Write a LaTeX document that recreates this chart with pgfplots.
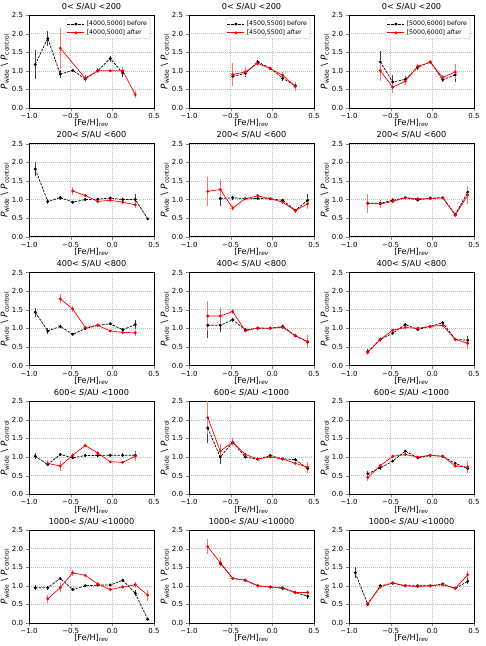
\documentclass[border=0pt]{standalone}
\usepackage{fontspec}
\setmainfont{DejaVu Sans}
\usepackage{pgfplots}
\pgfplotsset{compat=1.18}
\usepgfplotslibrary{groupplots}
\usetikzlibrary{calc}

\pgfplotsset{
  panel/.style={
    width=125pt, height=93pt, scale only axis,
    xmin=-1, xmax=0.5, ymin=0, ymax=2.5,
    xtick={-1,-0.5,0,0.5}, xticklabels={−1.0,−0.5,0.0,0.5},
    ytick={0,0.5,1,1.5,2,2.5}, yticklabels={0.0,0.5,1.0,1.5,2.0,2.5},
    tick align=outside, tick pos=left, major tick length=3pt,
    tick label style={font=\fontsize{7}{8}\selectfont},
    xticklabel style={yshift=1pt},
    yticklabel style={xshift=0.5pt},
    grid=major, major grid style={black!25, dash pattern=on 1pt off 1pt, line width=0.5pt},
    axis line style={line width=0.6pt},
    title style={font=\fontsize{8.2}{9}\selectfont, yshift=-4.5pt},
    xlabel={[Fe/H]\textsubscript{\textit{rev}}},
    xlabel style={font=\fontsize{8.2}{9}\selectfont, yshift=6pt},
    ylabel={\textit{P}\textsubscript{wide} \textbackslash\ \textit{P}\textsubscript{control}},
    ylabel style={font=\fontsize{9}{10}\selectfont, yshift=-4pt},
    legend style={at={(0.97,0.97)}, anchor=north east, font=\fontsize{6.2}{7}\selectfont,
      draw=black!25, rounded corners=1.5pt, inner sep=1pt, row sep=-1.5pt},
    legend cell align=left,
  },
  before/.style={black, dash pattern=on 2.5pt off 1.2pt, line width=0.7pt,
    mark=*, mark size=1.1pt, mark options={solid},
    error bars/.cd, y dir=both, y explicit, error mark=none,
    error bar style={solid, black!75, line width=0.9pt}},
  after/.style={red, solid, line width=0.7pt,
    mark=*, mark size=1.1pt, mark options={solid},
    error bars/.cd, y dir=both, y explicit, error mark=none,
    error bar style={solid, red!55, line width=0.9pt}},
}

\begin{document}
\begin{tikzpicture}
\begin{groupplot}[group style={group size=3 by 5, horizontal sep=35pt, vertical sep=35.75pt}, panel]
% row 1: 0 < S/AU < 200
\nextgroupplot[title={0< \textit{S}/AU <200}]
\addplot[before] coordinates {(-0.925,1.17)+-(0,0.4) (-0.775,1.87)+-(0,0.2) (-0.625,0.91)+-(0,0.1) (-0.475,1.01)+-(0,0.05) (-0.325,0.78)+-(0,0.06) (-0.175,1.0)+-(0,0.05) (-0.025,1.33)+-(0,0.08) (0.125,0.94)+-(0,0.12)};
\addlegendentry{[4000,5000] before}
\addplot[after] coordinates {(-0.625,1.61)+-(0,0.55) (-0.325,0.8)+-(0,0.1) (-0.175,1.0)+-(0,0.07) (-0.025,1.0)+-(0,0.03) (0.125,1.0)+-(0,0.09) (0.275,0.36)+-(0,0.1)};
\addlegendentry{[4000,5000] after}

\nextgroupplot[title={0< \textit{S}/AU <200}]
\addplot[before] coordinates {(-0.475,0.85)+-(0,0.1) (-0.325,0.93)+-(0,0.1) (-0.175,1.24)+-(0,0.05) (-0.025,1.07)+-(0,0.04) (0.125,0.8)+-(0,0.08) (0.275,0.6)+-(0,0.1)};
\addlegendentry{[4500,5500] before}
\addplot[after] coordinates {(-0.475,0.9)+-(0,0.3) (-0.325,0.97)+-(0,0.12) (-0.175,1.2)+-(0,0.07) (-0.025,1.06)+-(0,0.05) (0.125,0.88)+-(0,0.08) (0.275,0.58)+-(0,0.12)};
\addlegendentry{[4500,5500] after}

\nextgroupplot[title={0< \textit{S}/AU <200}]
\addplot[before] coordinates {(-0.625,1.24)+-(0,0.28) (-0.475,0.7)+-(0,0.18) (-0.325,0.77)+-(0,0.1) (-0.175,1.09)+-(0,0.07) (-0.025,1.24)+-(0,0.06) (0.125,0.76)+-(0,0.07) (0.275,0.89)+-(0,0.18)};
\addlegendentry{[5000,6000] before}
\addplot[after] coordinates {(-0.625,1.0)+-(0,0.28) (-0.475,0.56)+-(0,0.15) (-0.325,0.72)+-(0,0.1) (-0.175,1.12)+-(0,0.07) (-0.025,1.23)+-(0,0.06) (0.125,0.82)+-(0,0.07) (0.275,0.97)+-(0,0.2)};
\addlegendentry{[5000,6000] after}

% row 2: 200 < S/AU < 600
\nextgroupplot[title={200< \textit{S}/AU <600}]
\addplot[before] coordinates {(-0.925,1.82)+-(0,0.2) (-0.775,0.95)+-(0,0.07) (-0.625,1.05)+-(0,0.05) (-0.475,0.93)+-(0,0.03) (-0.325,1.0)+-(0,0.03) (-0.175,1.01)+-(0,0.03) (-0.025,1.04)+-(0,0.03) (0.125,1.0)+-(0,0.04) (0.275,1.0)+-(0,0.16) (0.425,0.48)+-(0,0.03)};
\addplot[after] coordinates {(-0.475,1.23)+-(0,0.1) (-0.325,1.11)+-(0,0.05) (-0.175,0.95)+-(0,0.05) (-0.025,0.98)+-(0,0.04) (0.125,0.93)+-(0,0.05) (0.275,0.86)+-(0,0.08)};

\nextgroupplot[title={200< \textit{S}/AU <600}]
\addplot[before] coordinates {(-0.625,1.03)+-(0,0.2) (-0.475,1.05)+-(0,0.05) (-0.325,1.02)+-(0,0.03) (-0.175,1.03)+-(0,0.03) (-0.025,1.02)+-(0,0.03) (0.125,0.98)+-(0,0.03) (0.275,0.71)+-(0,0.04) (0.425,0.98)+-(0,0.16)};
\addplot[after] coordinates {(-0.775,1.22)+-(0,0.38) (-0.625,1.27)+-(0,0.27) (-0.475,0.77)+-(0,0.08) (-0.325,1.02)+-(0,0.04) (-0.175,1.1)+-(0,0.04) (-0.025,1.02)+-(0,0.03) (0.125,0.93)+-(0,0.04) (0.275,0.7)+-(0,0.05) (0.425,0.89)+-(0,0.15)};

\nextgroupplot[title={200< \textit{S}/AU <600}]
\addplot[before] coordinates {(-0.775,0.9)+-(0,0.2) (-0.625,0.9)+-(0,0.1) (-0.475,0.98)+-(0,0.05) (-0.325,1.05)+-(0,0.03) (-0.175,0.99)+-(0,0.03) (-0.025,1.04)+-(0,0.03) (0.125,1.05)+-(0,0.03) (0.275,0.6)+-(0,0.05) (0.425,1.2)+-(0,0.15)};
\addplot[after] coordinates {(-0.775,0.9)+-(0,0.25) (-0.625,0.88)+-(0,0.12) (-0.475,0.95)+-(0,0.05) (-0.325,1.05)+-(0,0.03) (-0.175,1.02)+-(0,0.03) (-0.025,1.02)+-(0,0.03) (0.125,1.05)+-(0,0.03) (0.275,0.58)+-(0,0.05) (0.425,1.12)+-(0,0.25)};

% row 3: 400 < S/AU < 800
\nextgroupplot[title={400< \textit{S}/AU <800}]
\addplot[before] coordinates {(-0.925,1.43)+-(0,0.12) (-0.775,0.93)+-(0,0.07) (-0.625,1.05)+-(0,0.05) (-0.475,0.84)+-(0,0.03) (-0.325,0.99)+-(0,0.03) (-0.175,1.08)+-(0,0.03) (-0.025,1.12)+-(0,0.03) (0.125,0.96)+-(0,0.05) (0.275,1.1)+-(0,0.12)};
\addplot[after] coordinates {(-0.625,1.79)+-(0,0.12) (-0.475,1.52)+-(0,0.07) (-0.325,1.02)+-(0,0.03) (-0.175,1.08)+-(0,0.03) (-0.025,0.93)+-(0,0.03) (0.125,0.89)+-(0,0.04) (0.275,0.88)+-(0,0.08)};

\nextgroupplot[title={400< \textit{S}/AU <800}]
\addplot[before] coordinates {(-0.775,1.08)+-(0,0.35) (-0.625,1.08)+-(0,0.18) (-0.475,1.23)+-(0,0.05) (-0.325,0.96)+-(0,0.04) (-0.175,1.0)+-(0,0.03) (-0.025,1.0)+-(0,0.02) (0.125,1.05)+-(0,0.03) (0.275,0.8)+-(0,0.04) (0.425,0.63)+-(0,0.1)};
\addplot[after] coordinates {(-0.775,1.33)+-(0,0.4) (-0.625,1.33)+-(0,0.25) (-0.475,1.45)+-(0,0.06) (-0.325,0.93)+-(0,0.03) (-0.175,1.01)+-(0,0.03) (-0.025,1.0)+-(0,0.02) (0.125,1.03)+-(0,0.03) (0.275,0.8)+-(0,0.04) (0.425,0.64)+-(0,0.17)};

\nextgroupplot[title={400< \textit{S}/AU <800}]
\addplot[before] coordinates {(-0.775,0.37)+-(0,0.07) (-0.625,0.7)+-(0,0.06) (-0.475,0.87)+-(0,0.04) (-0.325,1.1)+-(0,0.03) (-0.175,0.97)+-(0,0.03) (-0.025,1.05)+-(0,0.02) (0.125,1.15)+-(0,0.03) (0.275,0.7)+-(0,0.04) (0.425,0.68)+-(0,0.12)};
\addplot[after] coordinates {(-0.775,0.35)+-(0,0.08) (-0.625,0.7)+-(0,0.07) (-0.475,0.95)+-(0,0.04) (-0.325,1.02)+-(0,0.03) (-0.175,1.0)+-(0,0.03) (-0.025,1.05)+-(0,0.02) (0.125,1.08)+-(0,0.03) (0.275,0.7)+-(0,0.04) (0.425,0.6)+-(0,0.15)};

% row 4: 600 < S/AU < 1000
\nextgroupplot[title={600< \textit{S}/AU <1000}]
\addplot[before] coordinates {(-0.925,1.02)+-(0,0.08) (-0.775,0.8)+-(0,0.05) (-0.625,1.07)+-(0,0.05) (-0.475,0.98)+-(0,0.04) (-0.325,1.04)+-(0,0.03) (-0.175,1.04)+-(0,0.03) (-0.025,1.05)+-(0,0.03) (0.125,1.05)+-(0,0.05) (0.275,1.05)+-(0,0.1)};
\addplot[after] coordinates {(-0.775,0.83)+-(0,0.08) (-0.625,0.76)+-(0,0.13) (-0.475,1.05)+-(0,0.07) (-0.325,1.31)+-(0,0.05) (-0.175,1.11)+-(0,0.03) (-0.025,0.87)+-(0,0.03) (0.125,0.86)+-(0,0.03) (0.275,1.02)+-(0,0.12)};

\nextgroupplot[title={600< \textit{S}/AU <1000}]
\addplot[before] coordinates {(-0.775,1.78)+-(0,0.4) (-0.625,1.0)+-(0,0.2) (-0.475,1.4)+-(0,0.08) (-0.325,1.0)+-(0,0.04) (-0.175,0.94)+-(0,0.03) (-0.025,1.04)+-(0,0.03) (0.125,0.95)+-(0,0.03) (0.275,0.93)+-(0,0.04) (0.425,0.69)+-(0,0.07)};
\addplot[after] coordinates {(-0.775,2.06)+-(0,0.45) (-0.625,1.16)+-(0,0.18) (-0.475,1.4)+-(0,0.1) (-0.325,1.07)+-(0,0.04) (-0.175,0.95)+-(0,0.03) (-0.025,1.0)+-(0,0.03) (0.125,0.95)+-(0,0.03) (0.275,0.83)+-(0,0.04) (0.425,0.73)+-(0,0.15)};

\nextgroupplot[title={600< \textit{S}/AU <1000}]
\addplot[before] coordinates {(-0.775,0.55)+-(0,0.08) (-0.625,0.71)+-(0,0.05) (-0.475,0.89)+-(0,0.03) (-0.325,1.16)+-(0,0.03) (-0.175,0.98)+-(0,0.03) (-0.025,1.04)+-(0,0.02) (0.125,1.02)+-(0,0.02) (0.275,0.83)+-(0,0.04) (0.425,0.69)+-(0,0.08)};
\addplot[after] coordinates {(-0.775,0.45)+-(0,0.1) (-0.625,0.77)+-(0,0.05) (-0.475,1.02)+-(0,0.04) (-0.325,1.07)+-(0,0.03) (-0.175,1.0)+-(0,0.03) (-0.025,1.05)+-(0,0.02) (0.125,1.02)+-(0,0.02) (0.275,0.76)+-(0,0.05) (0.425,0.73)+-(0,0.17)};

% row 5: 1000 < S/AU < 10000
\nextgroupplot[title={1000< \textit{S}/AU <10000}]
\addplot[before] coordinates {(-0.925,0.95)+-(0,0.07) (-0.775,0.95)+-(0,0.05) (-0.625,1.2)+-(0,0.05) (-0.475,0.9)+-(0,0.04) (-0.325,1.0)+-(0,0.03) (-0.175,1.02)+-(0,0.03) (-0.025,1.02)+-(0,0.03) (0.125,1.15)+-(0,0.04) (0.275,0.8)+-(0,0.08) (0.425,0.1)+-(0,0.03)};
\addplot[after] coordinates {(-0.775,0.65)+-(0,0.1) (-0.625,0.95)+-(0,0.12) (-0.475,1.35)+-(0,0.08) (-0.325,1.28)+-(0,0.05) (-0.175,1.05)+-(0,0.04) (-0.025,0.9)+-(0,0.04) (0.125,0.97)+-(0,0.04) (0.275,1.03)+-(0,0.08) (0.425,0.75)+-(0,0.15)};

\nextgroupplot[title={1000< \textit{S}/AU <10000}]
\addplot[before] coordinates {(-0.625,1.6)+-(0,0.1) (-0.475,1.2)+-(0,0.04) (-0.325,1.15)+-(0,0.03) (-0.175,1.0)+-(0,0.03) (-0.025,0.97)+-(0,0.03) (0.125,0.93)+-(0,0.03) (0.275,0.82)+-(0,0.04) (0.425,0.72)+-(0,0.08)};
\addplot[after] coordinates {(-0.775,2.05)+-(0,0.2) (-0.625,1.62)+-(0,0.12) (-0.475,1.2)+-(0,0.04) (-0.325,1.15)+-(0,0.03) (-0.175,1.0)+-(0,0.03) (-0.025,0.97)+-(0,0.03) (0.125,0.95)+-(0,0.03) (0.275,0.82)+-(0,0.04) (0.425,0.82)+-(0,0.07)};

\nextgroupplot[title={1000< \textit{S}/AU <10000}]
\addplot[before] coordinates {(-0.925,1.35)+-(0,0.15) (-0.775,0.5)+-(0,0.03) (-0.625,1.0)+-(0,0.03) (-0.475,1.07)+-(0,0.03) (-0.325,1.0)+-(0,0.02) (-0.175,1.0)+-(0,0.02) (-0.025,1.0)+-(0,0.02) (0.125,1.05)+-(0,0.02) (0.275,0.93)+-(0,0.03) (0.425,1.12)+-(0,0.08)};
\addplot[after] coordinates {(-0.775,0.52)+-(0,0.04) (-0.625,0.97)+-(0,0.04) (-0.475,1.08)+-(0,0.03) (-0.325,1.0)+-(0,0.02) (-0.175,0.98)+-(0,0.02) (-0.025,1.0)+-(0,0.02) (0.125,1.03)+-(0,0.02) (0.275,0.93)+-(0,0.03) (0.425,1.3)+-(0,0.1)};
\end{groupplot}
\pgfresetboundingbox
\path ($(group c1r1.north west)+(-29pt,15pt)$) rectangle ($(group c3r5.south east)+(11pt,-23pt)$);
\end{tikzpicture}
\end{document}
